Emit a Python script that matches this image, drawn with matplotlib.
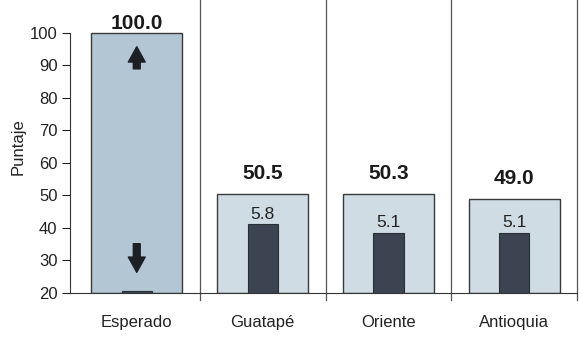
import matplotlib
matplotlib.use('Agg')

import matplotlib.pyplot as plt

plt.rcParams['font.family'] = ['Liberation Sans', 'DejaVu Sans']

# Data
categories = ['Esperado', 'Guatapé', 'Oriente', 'Antioquia']
puntaje = [100.0, 50.5, 50.3, 49.0]          # light bars (left axis)
cambio = [0.2, 5.8, 5.1, 5.1]                 # dark bars (hidden right scale)
cambio_labels = ['', '5.8', '5.1', '5.1']
arrow_up = (88, 96.5)      # tail, head (left axis units)
arrow_down = (36, 25.5)

light = '#d0dce4'
light_esp = '#b2c6d4'
dark = '#3b4450'
edge = '#3a3a3a'

fig = plt.figure(figsize=(5.79, 3.38), dpi=100)
ax = fig.add_axes([0.121, 0.133, 0.876, 0.867])

x = range(len(categories))
colors = [light_esp] + [light] * (len(categories) - 1)
ax.bar(x, [p - 20 for p in puntaje], bottom=20, width=0.72, color=colors,
       edgecolor=edge, linewidth=1.0, zorder=2)
ax.set_ylim(20, 110)
ax.set_xlim(-0.53, 3.5)

# value labels on top of light bars
for i, p in enumerate(puntaje):
    off = 0 if p > 90 else 8
    ax.annotate(f'{p:.1f}', (i, p), xytext=(0, off), textcoords='offset points',
                ha='center', va='bottom', fontsize=15, fontweight='bold',
                color='#1a1a1a', zorder=5, annotation_clip=False)

# dark bars on hidden secondary scale
ax2 = ax.twinx()
ax2.set_ylim(0, 24.75)
ax2.bar(x, cambio, width=0.24, color=dark, edgecolor='#2a2f36', linewidth=0.8, zorder=3)
for i, (c, lab) in enumerate(zip(cambio, cambio_labels)):
    if lab:
        ax2.annotate(lab, (i, c), xytext=(0, 2), textcoords='offset points',
                     ha='center', va='bottom', fontsize=12.5, color='#222222')
ax2.axis('off')

# arrows in the "Esperado" bar
style = 'simple,head_width=1.1,head_length=1.0,tail_width=0.45'
ax.annotate('', xy=(0, arrow_up[1]), xytext=(0, arrow_up[0]),
            arrowprops=dict(arrowstyle=style, color='#1c1f24', mutation_scale=11), zorder=6)
ax.annotate('', xy=(0, arrow_down[1]), xytext=(0, arrow_down[0]),
            arrowprops=dict(arrowstyle=style, color='#1c1f24', mutation_scale=11), zorder=6)

# separators between categories
for s in [0.5, 1.5, 2.5, 3.5]:
    ax.plot([s, s], [18, 110], color='#555555', linewidth=0.9, clip_on=False, zorder=1)

ax.spines['top'].set_visible(False)
ax.spines['right'].set_visible(False)
ax.spines['left'].set_bounds(20, 100)
ax.spines['left'].set_color('#333333')
ax.spines['bottom'].set_color('#333333')
ax.set_yticks(range(20, 101, 10))
ax.tick_params(axis='y', length=6, pad=3, labelsize=12, colors='#222222')
ax.set_xticks(list(x))
ax.set_xticklabels(categories)
ax.tick_params(axis='x', length=0, pad=16, labelsize=12, colors='#222222')
ax.set_ylabel('Puntaje', fontsize=12, color='#222222', labelpad=3)

fig.savefig('out.png', dpi=100)
plt.close(fig)
